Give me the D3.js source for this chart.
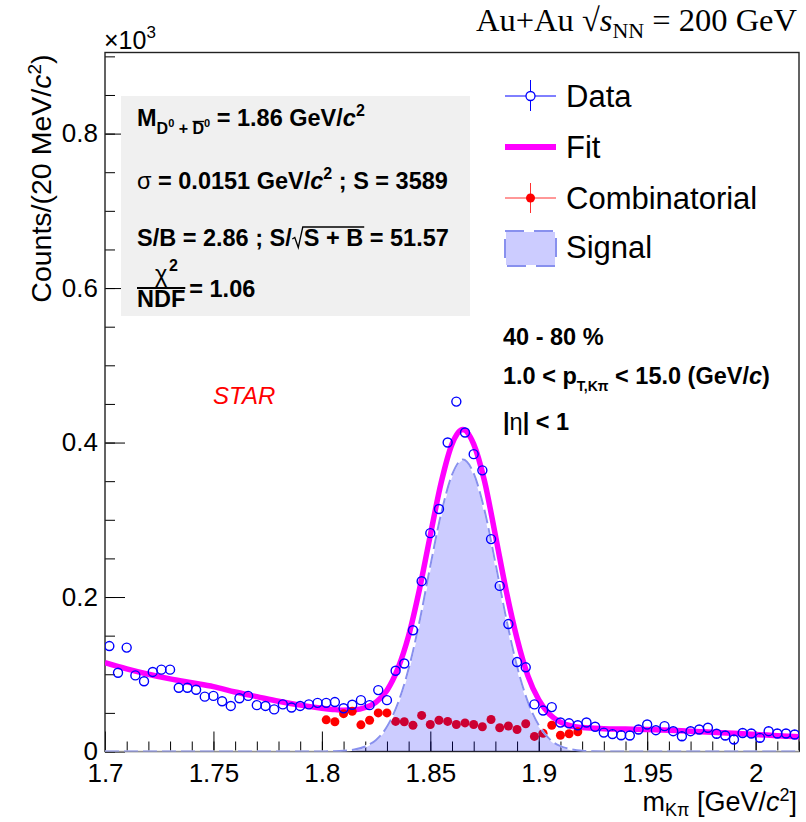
<!DOCTYPE html>
<html>
<head>
<meta charset="utf-8">
<script src="https://cdn.jsdelivr.net/npm/d3@7"></script>
<style>
body { margin: 0; background: #fff; }
text { font-family: "Liberation Sans", Arial, Helvetica, sans-serif; }
</style>
</head>
<body>
<script>
// histogram bins (GeV/c^2), 4 MeV wide
var binCenters = [
  1.702, 1.706, 1.710, 1.714, 1.718, 1.722, 1.726, 1.730, 1.734, 1.738,
  1.742, 1.746, 1.750, 1.754, 1.758, 1.762, 1.766, 1.770, 1.774, 1.778,
  1.782, 1.786, 1.790, 1.794, 1.798, 1.802, 1.806, 1.810, 1.814, 1.818,
  1.822, 1.826, 1.830, 1.834, 1.838, 1.842, 1.846, 1.850, 1.854, 1.858,
  1.862, 1.866, 1.870, 1.874, 1.878, 1.882, 1.886, 1.890, 1.894, 1.898,
  1.902, 1.906, 1.910, 1.914, 1.918, 1.922, 1.926, 1.930, 1.934, 1.938,
  1.942, 1.946, 1.950, 1.954, 1.958, 1.962, 1.966, 1.970, 1.974, 1.978,
  1.982, 1.986, 1.990, 1.994, 1.998, 2.002, 2.006, 2.010, 2.014, 2.018
];
var dataCounts = [
  136.5, 102, 134.5, 98.5, 91, 103, 106, 106, 82.5, 82.5,
  80, 71, 72, 65, 59, 69, 72, 60, 59, 54.5,
  61, 57, 59, 61, 63, 63, 64, 56, 60.5, 66.5,
  60, 79.5, 66.5, 104.5, 114, 157, 220.5, 282.7, 314, 400,
  453, 413, 385, 364, 275, 214.4, 165, 115.8, 109, 61,
  53, 57.5, 37.5, 36.5, 34, 37.5, 32, 24.5, 22.5, 21,
  20.7, 28.5, 35, 27.6, 32.8, 26.3, 19.8, 26.3, 28.5, 30.7,
  23, 20.7, 15.6, 24, 23.3, 17.7, 26.3, 23.3, 23.3, 22
];
var dataErrors = [
  11.7, 10, 11.6, 9.9, 9.5, 10, 10.3, 10.3, 9, 9,
  9, 8.4, 8.5, 8, 7.7, 8.3, 8.5, 7.7, 7.7, 7.4,
  7.8, 7.5, 7.7, 7.8, 7.9, 7.9, 8, 7.5, 7.8, 8.2,
  7.7, 8.9, 8.2, 10.2, 10.7, 12.5, 14.8, 16.8, 17.7, 20,
  21.3, 20.3, 19.6, 19.1, 16.6, 14.6, 12.8, 10.8, 10.4, 7.8,
  7.3, 7.6, 6.1, 6, 5.8, 6.1, 5.7, 5, 4.7, 4.6,
  4.5, 5.3, 5.9, 5.3, 5.7, 5.1, 4.4, 5.1, 5.3, 5.5,
  4.8, 4.5, 3.9, 4.9, 4.8, 4.2, 5.1, 4.8, 4.8, 4.7
];
// combinatorial background (red points)
var combCenters = [
  1.802, 1.806, 1.810, 1.814, 1.818, 1.822, 1.826, 1.830, 1.834, 1.838,
  1.842, 1.846, 1.850, 1.854, 1.858, 1.862, 1.866, 1.870, 1.874, 1.878,
  1.882, 1.886, 1.890, 1.894, 1.898, 1.902, 1.906, 1.910, 1.914, 1.918
];
var combCounts = [
  41, 38.5, 49, 52, 34.5, 40.5, 50, 50, 39, 38.5,
  34, 46.7, 35, 40.5, 39, 35, 37, 35, 32, 41.5,
  30.7, 33, 28.5, 36, 19.5, 23.5, 34, 21, 23, 25.5
];
// fit curve
var fitX = [1.700, 1.710, 1.720, 1.730, 1.740, 1.750, 1.760, 1.770, 1.780, 1.790,
  1.800, 1.805, 1.810, 1.815, 1.820, 1.825, 1.830, 1.835, 1.840, 1.845,
  1.850, 1.855, 1.860, 1.865, 1.870, 1.875, 1.880, 1.885, 1.890, 1.895,
  1.900, 1.905, 1.910, 1.915, 1.920, 1.930, 1.940, 1.950, 1.960, 1.970,
  1.980, 1.990, 2.000, 2.010, 2.020];
var fitY = [115, 107, 100, 94, 89, 84, 77, 71, 65, 60,
  56, 54.5, 53.5, 54, 57, 64, 79, 107, 150, 210,
  280, 348, 398, 417, 398, 350, 280, 208, 146, 98,
  67, 48, 38, 33, 31, 29.5, 29, 28.5, 27.5, 26.2,
  25, 23.5, 22, 20.5, 19];
// signal component
var sigX = [1.700, 1.780, 1.800, 1.805, 1.810, 1.815, 1.820, 1.825, 1.830, 1.835,
  1.840, 1.845, 1.850, 1.855, 1.860, 1.865, 1.870, 1.875, 1.880, 1.885,
  1.890, 1.895, 1.900, 1.905, 1.910, 1.915, 1.920, 1.925, 1.930, 1.950, 2.020];
var sigY = [0, 0, 0.1, 0.3, 0.9, 2.5, 6.5, 15, 32, 62,
  107, 168, 240, 308, 358, 378, 360, 312, 244, 172,
  110, 64, 34, 16, 7, 3, 1, 0.3, 0.1, 0, 0];

var xTicks = [1.7, 1.75, 1.8, 1.85, 1.9, 1.95, 2.0];
var xTickLabels = ["1.7", "1.75", "1.8", "1.85", "1.9", "1.95", "2"];
var yTicks = [0, 200, 400, 600, 800];
var yTickLabels = ["0", "0.2", "0.4", "0.6", "0.8"];

var frame = { left: 105, top: 52.5, right: 799, bottom: 751.5 };

var svg = d3.select("body").append("svg")
    .attr("width", 806)
    .attr("height", 822);

var x = d3.scaleLinear().domain([1.7, 2.02]).range([frame.left, frame.right]);
var y = d3.scaleLinear().domain([0, 905]).range([frame.bottom, frame.top]);

svg.append("clipPath").attr("id", "clip")
    .append("rect")
    .attr("x", frame.left).attr("y", frame.top)
    .attr("width", frame.right - frame.left).attr("height", frame.bottom - frame.top);

// ---- axes
var xMinor = d3.range(170, 203).map((d) => d / 100);
var yMinor = d3.range(0, 901, 50);

svg.append("g")
    .attr("class", "axis")
    .attr("transform", `translate(0,${frame.bottom})`)
    .call(d3.axisBottom(x).tickValues(xMinor).tickSizeInner(-10).tickSizeOuter(0).tickFormat(""));
svg.append("g")
    .attr("class", "axis")
    .attr("transform", `translate(0,${frame.bottom})`)
    .call(d3.axisBottom(x).tickValues(xTicks).tickSizeInner(-20).tickSizeOuter(0).tickPadding(12)
        .tickFormat((d, i) => xTickLabels[i]));
svg.append("g")
    .attr("class", "axis")
    .attr("transform", `translate(${frame.left},0)`)
    .call(d3.axisLeft(y).tickValues(yMinor).tickSizeInner(-10).tickSizeOuter(0).tickFormat(""));
svg.append("g")
    .attr("class", "axis")
    .attr("transform", `translate(${frame.left},0)`)
    .call(d3.axisLeft(y).tickValues(yTicks).tickSizeInner(-20).tickSizeOuter(0).tickPadding(7)
        .tickFormat((d, i) => yTickLabels[i]));

svg.selectAll(".axis text")
    .attr("font-size", "26px")
    .attr("font-family", "Liberation Sans, Arial, sans-serif")
    .attr("fill", "#000");
svg.selectAll(".axis line").attr("stroke", "#000").attr("stroke-width", 1);
svg.selectAll(".axis .domain").remove();

// frame
svg.append("rect")
    .attr("x", frame.left).attr("y", frame.top)
    .attr("width", frame.right - frame.left).attr("height", frame.bottom - frame.top)
    .attr("fill", "none").attr("stroke", "#222").attr("stroke-width", 1.4);

var plot = svg.append("g").attr("clip-path", "url(#clip)");

// ---- fit
var fitLine = d3.line()
    .x((d) => x(d[0]))
    .y((d) => y(d[1]))
    .curve(d3.curveMonotoneX);
plot.append("path")
    .datum(fitX.map((d, i) => [d, fitY[i]]))
    .attr("d", fitLine)
    .attr("fill", "none")
    .attr("stroke", "#ff00ff")
    .attr("stroke-width", 5.5)
    .attr("stroke-linejoin", "round");

// ---- combinatorial
plot.selectAll(".comb")
    .data(combCenters)
    .enter()
    .append("circle")
    .attr("cx", (d) => x(d))
    .attr("cy", (d, i) => y(combCounts[i]))
    .attr("r", 4.5)
    .attr("fill", "#ff0000");

// ---- signal
var sigPts = sigX.map((d, i) => [d, sigY[i]]);
plot.append("path")
    .datum(sigPts)
    .attr("d", d3.area().x((d) => x(d[0])).y0(y(0)).y1((d) => y(d[1])).curve(d3.curveMonotoneX))
    .attr("fill", "rgba(0,0,255,0.2)");
plot.append("path")
    .datum(sigPts)
    .attr("d", fitLine)
    .attr("fill", "none")
    .attr("stroke", "#fff")
    .attr("stroke-width", 2);
plot.append("path")
    .datum(sigPts)
    .attr("d", fitLine)
    .attr("fill", "none")
    .attr("stroke", "#8890ee")
    .attr("stroke-width", 2)
    .attr("stroke-dasharray", "14,5");

// ---- data
var r = 4.5;
var pts = plot.selectAll(".pt")
    .data(binCenters)
    .enter()
    .append("g");
pts.append("line")
    .attr("x1", (d) => x(d)).attr("x2", (d) => x(d))
    .attr("y1", (d, i) => y(dataCounts[i] + dataErrors[i]))
    .attr("y2", (d, i) => Math.min(y(dataCounts[i]) - r, y(dataCounts[i] + dataErrors[i])))
    .attr("stroke", "#0000ff").attr("stroke-width", 1.2);
pts.append("line")
    .attr("x1", (d) => x(d)).attr("x2", (d) => x(d))
    .attr("y1", (d, i) => Math.max(y(dataCounts[i]) + r, y(dataCounts[i] - dataErrors[i])))
    .attr("y2", (d, i) => y(dataCounts[i] - dataErrors[i]))
    .attr("stroke", "#0000ff").attr("stroke-width", 1.2);
pts.append("circle")
    .attr("cx", (d) => x(d))
    .attr("cy", (d, i) => y(dataCounts[i]))
    .attr("r", r)
    .attr("fill", "none")
    .attr("stroke", "#0000ff")
    .attr("stroke-width", 1.4);

// ---- rich text helper: parts = [text, y, size, opts]
function rich(parent, x0, parts, anchor) {
    var t = parent.append("text").attr("x", x0);
    if (anchor) t.attr("text-anchor", anchor);
    parts.forEach((p) => {
        var o = p[3] || {};
        var s = t.append("tspan").text(p[0]).attr("font-size", p[2] + "px");
        if (o.dy !== undefined) s.attr("dy", o.dy); else s.attr("y", p[1]);
        if (o.it) s.attr("font-style", "italic");
        if (o.w) s.attr("font-weight", o.w);
        if (o.cls) s.attr("class", o.cls);
        if (o.dx) s.attr("dx", o.dx);
    });
    return t;
}

// ---- titles
rich(svg, 797, [
    ["Au+Au \u221A", 0, 32.5, { dy: 31 }],
    ["s", 0, 32.5, { dy: 0, it: true }],
    ["NN", 0, 22, { dy: 7 }],
    [" = 200 GeV", 0, 32.5, { dy: -7 }]
], "end").attr("y", 0)
    .selectAll("tspan").attr("font-family", "Liberation Serif, Times New Roman, serif");

rich(svg, 104, [
    ["\u00D710", 49, 25],
    ["3", 38, 17]
]);

rich(svg, 797, [
    ["m", 0, 27, { dy: 811 }],
    ["K\u03C0", 0, 18, { dy: 5 }],
    [" [GeV/", 0, 27, { dy: -5 }],
    ["c", 0, 27, { dy: 0, it: true }],
    ["2", 0, 18, { dy: -10 }],
    ["]", 0, 27, { dy: 10 }]
], "end").attr("y", 0);

var ytitle = svg.append("g").attr("transform", `translate(51,${frame.top + 2}) rotate(-90)`);
rich(ytitle, 0, [
    ["Counts/(20 MeV/", 0, 28.5, { dy: 0 }],
    ["c", 0, 28.5, { dy: 0, it: true }],
    ["2", 0, 19, { dy: -10 }],
    [")", 0, 28.5, { dy: 10 }]
], "end").attr("y", 0);

rich(svg, 213, [["STAR", 404, 24, { it: true }]]).attr("fill", "#ff0000");

// ---- stats box
svg.append("rect")
    .attr("x", 121).attr("y", 96).attr("width", 349).attr("height", 220)
    .attr("fill", "#f0f0f0");

var stats = svg.append("g").attr("font-weight", "bold");
var fs = 23.5, fsSub = 16, fsSup = 11;
var b1 = 126, b2 = 189, b3 = 246;
rich(stats, 137, [
    ["M", b1, fs],
    ["D", b1 + 8, fsSub],
    ["0", b1 + 1, fsSup],
    [" + ", b1 + 8, fsSub],
    ["D", b1 + 8, fsSub, { cls: "dbar" }],
    ["0", b1 + 1, fsSup],
    [" = 1.86 GeV/", b1, fs],
    ["c", b1, fs, { it: true }],
    ["2", b1 - 10, fsSub]
]);
var dEl = stats.select(".dbar").node();
var dExt = dEl.getExtentOfChar(0);
stats.append("line")
    .attr("x1", dExt.x).attr("x2", dExt.x + dExt.width)
    .attr("y1", dExt.y + 1.5).attr("y2", dExt.y + 1.5)
    .attr("stroke", "#000").attr("stroke-width", 1.3);

rich(stats, 137, [
    ["\u03C3", b2, fs, { w: "normal" }],
    [" = 0.0151 GeV/", b2, fs],
    ["c", b2, fs, { it: true }],
    ["2", b2 - 10, fsSub],
    [" ; S = 3589", b2, fs]
]);

var l3 = rich(stats, 137, [
    ["S/B = 2.86 ; S/", b3, fs, { cls: "pre" }],
    ["S + B", b3, fs, { cls: "rad", dx: 12 }],
    [" = 51.57", b3, fs]
]);
var pre = l3.select(".pre").node();
var preEnd = pre.getExtentOfChar(pre.getNumberOfChars() - 1);
var rad = l3.select(".rad").node();
var radEnd = rad.getExtentOfChar(rad.getNumberOfChars() - 1);
var rx = preEnd.x + preEnd.width + 0.5;
var top3 = b3 - 19;
stats.append("path")
    .attr("d", `M${rx},${b3 - 7} L${rx + 2.5},${b3 - 8.5} L${rx + 6},${b3 + 1.5} L${rx + 10.5},${top3} L${radEnd.x + radEnd.width + 1},${top3}`)
    .attr("fill", "none").attr("stroke", "#000").attr("stroke-width", 1.3);

var ndf = rich(stats, 137, [["NDF", 307, fs]]);
var ndfW = ndf.node().getComputedTextLength();
stats.append("line")
    .attr("x1", 137).attr("x2", 137 + ndfW)
    .attr("y1", 288).attr("y2", 288)
    .attr("stroke", "#000").attr("stroke-width", 2.2);
rich(stats, 137 + ndfW / 2, [
    ["\u03C7", 282, fs, { w: "normal" }],
    ["2", 271, fsSub]
], "middle");
rich(stats, 137 + ndfW + 4, [["= 1.06", 297, fs]]);

// ---- right hand text
var info = svg.append("g").attr("font-weight", "bold");
var fi = 23.5;
rich(info, 503, [["40 - 80 %", 345, fi]]);
rich(info, 503, [
    ["1.0 < p", 384, fi],
    ["T,K\u03C0", 391, 14],
    [" < 15.0 (GeV/", 384, fi],
    ["c", 384, fi, { it: true }],
    [")", 384, fi]
]);
rich(info, 503, [
    ["|", 430, fi],
    ["\u03B7", 430, fi, { w: "normal" }],
    ["| < 1", 430, fi]
]);

// ---- legend
var leg = svg.append("g");
var lx0 = 505, lx1 = 556, lxc = 530.5;
// data
leg.append("line").attr("x1", lx0).attr("x2", lxc - 4.5).attr("y1", 96).attr("y2", 96).attr("stroke", "#0000ff");
leg.append("line").attr("x1", lxc + 4.5).attr("x2", lx1).attr("y1", 96).attr("y2", 96).attr("stroke", "#0000ff");
leg.append("line").attr("x1", lxc).attr("x2", lxc).attr("y1", 80).attr("y2", 91.5).attr("stroke", "#0000ff");
leg.append("line").attr("x1", lxc).attr("x2", lxc).attr("y1", 100.5).attr("y2", 111).attr("stroke", "#0000ff");
leg.append("circle").attr("cx", lxc).attr("cy", 96).attr("r", 4.5).attr("fill", "none").attr("stroke", "#0000ff").attr("stroke-width", 1.3);
// fit
leg.append("line").attr("x1", lx0).attr("x2", lx1).attr("y1", 147).attr("y2", 147).attr("stroke", "#ff00ff").attr("stroke-width", 6);
// combinatorial
leg.append("line").attr("x1", lx0).attr("x2", lx1).attr("y1", 198).attr("y2", 198).attr("stroke", "#ff3030");
leg.append("line").attr("x1", lxc).attr("x2", lxc).attr("y1", 183).attr("y2", 213).attr("stroke", "#ff3030");
leg.append("circle").attr("cx", lxc).attr("cy", 198).attr("r", 4.5).attr("fill", "#ff0000");
// signal
leg.append("rect").attr("x", lx0).attr("y", 231).attr("width", lx1 - lx0).attr("height", 35)
    .attr("fill", "rgba(0,0,255,0.2)").attr("stroke", "#fff").attr("stroke-width", 2);
leg.append("rect").attr("x", lx0).attr("y", 231).attr("width", lx1 - lx0).attr("height", 35)
    .attr("fill", "none").attr("stroke", "#8890ee").attr("stroke-width", 2).attr("stroke-dasharray", "19,10");

var legNames = ["Data", "Fit", "Combinatorial", "Signal"];
var legBase = [107, 158, 209, 258];
leg.selectAll(".lt")
    .data(legNames)
    .enter()
    .append("text")
    .attr("x", 566)
    .attr("y", (d, i) => legBase[i])
    .attr("font-size", "31px")
    .text((d) => d);
</script>
</body>
</html>
